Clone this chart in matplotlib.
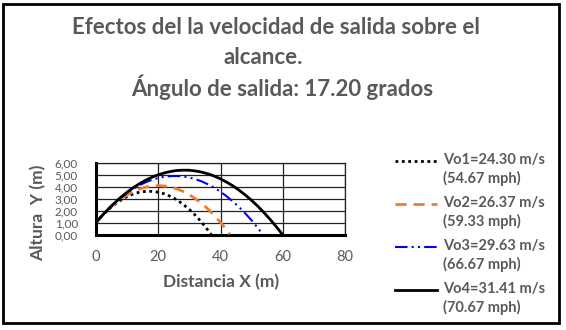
import matplotlib
matplotlib.use("Agg")
import matplotlib.pyplot as plt
from matplotlib.lines import Line2D
from matplotlib.patches import Rectangle

plt.rcParams['font.family'] = ['Lato', 'DejaVu Sans']

TXT = '#595959'

# Trajectory samples: horizontal distance (m) and height (m)
x_vo1 = [0, 2, 4, 6, 8, 10, 12, 14, 16, 18, 20, 22, 24, 26, 28, 30, 32, 34, 36, 37]
y_vo1 = [1.00, 1.58, 2.09, 2.53, 2.89, 3.19, 3.41, 3.55, 3.62, 3.62, 3.55, 3.41,
         3.19, 2.90, 2.53, 2.10, 1.59, 1.01, 0.35, 0.00]

x_vo2 = [0, 2, 4, 6, 8, 10, 12, 14, 16, 18, 20, 22, 24, 26, 28, 30, 32, 34, 36, 38,
         40, 42, 43]
y_vo2 = [1.00, 1.59, 2.12, 2.58, 2.98, 3.32, 3.60, 3.82, 3.98, 4.07, 4.10, 4.07,
         3.98, 3.83, 3.61, 3.33, 2.99, 2.59, 2.13, 1.60, 1.02, 0.37, 0.02]

x_vo3 = [0, 2, 4, 6, 8, 10, 12, 14, 16, 18, 20, 22, 24, 26, 28, 30, 32, 34, 36, 38,
         40, 42, 44, 46, 48, 50, 52, 53.6]
y_vo3 = [1.00, 1.60, 2.14, 2.64, 3.09, 3.48, 3.83, 4.14, 4.39, 4.59, 4.74, 4.85,
         4.90, 4.91, 4.87, 4.78, 4.64, 4.45, 4.21, 3.93, 3.59, 3.20, 2.77, 2.29,
         1.76, 1.18, 0.55, 0.00]

x_vo4 = [0, 2, 4, 6, 8, 10, 12, 14, 16, 18, 20, 22, 24, 26, 28, 30, 32, 34, 36, 38,
         40, 42, 44, 46, 48, 50, 52, 54, 56, 58, 59.9]
y_vo4 = [1.00, 1.60, 2.15, 2.66, 3.13, 3.55, 3.93, 4.27, 4.56, 4.81, 5.01, 5.17,
         5.29, 5.37, 5.40, 5.39, 5.33, 5.23, 5.09, 4.90, 4.67, 4.39, 4.08, 3.71,
         3.31, 2.86, 2.37, 1.83, 1.25, 0.63, 0.00]

labels = ['Vo1=24.30 m/s\n(54.67 mph)', 'Vo2=26.37 m/s\n(59.33 mph)',
          'Vo3=29.63 m/s\n(66.67 mph)', 'Vo4=31.41 m/s\n(70.67 mph)']

x_ticks = [0, 20, 40, 60, 80]
y_ticks = [0, 1, 2, 3, 4, 5, 6]

W, H = 566, 330
fig = plt.figure(figsize=(W / 100, H / 100), dpi=100)

def fx(px):
    return px / W

def fy(py):
    return 1 - py / H

# outer frame
fig.add_artist(Rectangle((fx(2.5), fy(323)), fx(559) - fx(2.5), fy(3.5) - fy(323),
                         transform=fig.transFigure, fill=False, edgecolor='black',
                         linewidth=2, zorder=0))

ax = fig.add_axes([fx(96), fy(234.5), fx(345) - fx(96), fy(163) - fy(234.5)])

styles = [
    dict(color='black', linestyle=(0, (1, 1.3)), linewidth=2.0),
    dict(color='#ED7D31', linestyle=(0, (4, 2.5)), linewidth=2.0),
    dict(color='#0000FF', linestyle=(0, (6, 2, 1, 2, 1, 2)), linewidth=1.5),
    dict(color='black', linestyle='-', linewidth=2.0),
]
series = [(x_vo1, y_vo1), (x_vo2, y_vo2), (x_vo3, y_vo3), (x_vo4, y_vo4)]
for (xs, ys), st in zip(series, styles):
    ax.plot(xs, ys, zorder=3, **st)

ax.set_xlim(0, 80)
ax.set_ylim(0, 6)
ax.set_xticks(x_ticks)
ax.set_yticks(y_ticks)
ax.set_xticklabels([str(v) for v in x_ticks])
ax.set_yticklabels([f'{v:.2f}'.replace('.', ',') for v in y_ticks])
ax.grid(True, color='#222222', linewidth=0.9)
ax.tick_params(length=0, colors=TXT)
ax.tick_params(axis='x', pad=11, labelsize=10.5)
ax.tick_params(axis='y', pad=13, labelsize=8.5)
ax.set_axisbelow(True)
for s in ['top', 'right']:
    ax.spines[s].set_linewidth(0.9)
    ax.spines[s].set_color('#222222')
for s in ['left', 'bottom']:
    ax.spines[s].set_linewidth(2.2)
    ax.spines[s].set_color('black')

fig.text(fx(221), fy(282), 'Distancia X (m)', ha='center', va='center',
         fontsize=12.5, fontweight='bold', color=TXT)
fig.text(fx(38), fy(213), 'Altura  Y (m)', ha='center', va='center', rotation=90,
         fontsize=12.5, fontweight='bold', color=TXT)

# title lines
title_kw = dict(ha='center', va='center', fontsize=16, fontweight='bold', color=TXT)
fig.text(fx(276), fy(28), 'Efectos del la velocidad de salida sobre el', **title_kw)
fig.text(fx(263), fy(57), 'alcance.', **title_kw)
fig.text(fx(282), fy(87), 'Ángulo de salida: 17.20 grados', **title_kw)

# legend
row_y = [161, 204, 247, 290]
for yy, st, lab in zip(row_y, styles, labels):
    fig.add_artist(Line2D([fx(395), fx(437)], [fy(yy), fy(yy)],
                          transform=fig.transFigure, **st))
    fig.text(fx(443), fy(yy - 8), lab, ha='left', va='top', fontsize=10.5,
             fontweight='bold', color=TXT, linespacing=1.3)

fig.savefig('out.png', dpi=100)
